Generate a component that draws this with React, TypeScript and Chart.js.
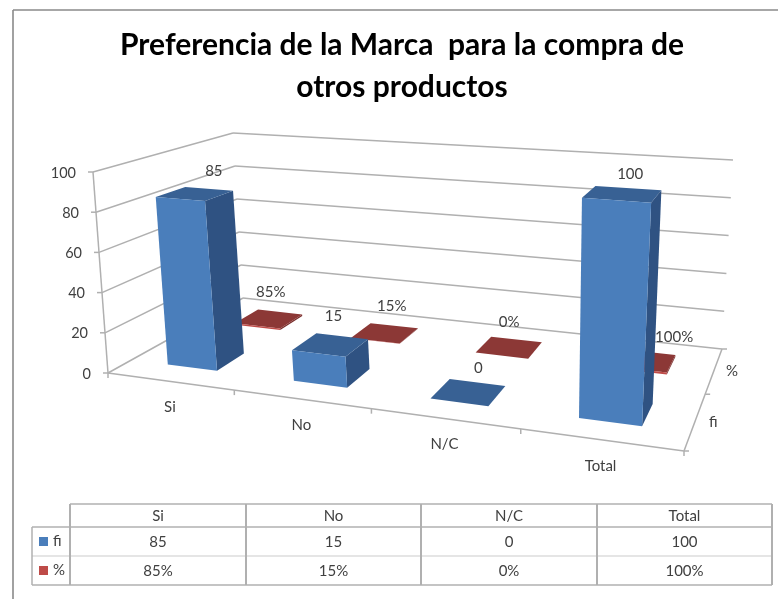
import React, { useEffect, useRef } from "react";
import { Chart, BarController, registerables } from "chart.js";

// Chart values
const categories = ["Si", "No", "N/C", "Total"];
const seriesNames = ["fi", "%"];
const fiValues = [85, 15, 0, 100];
const pctValues = [0.85, 0.15, 0, 1];
const titleLines = ["Preferencia de la Marca  para la compra de", "otros productos"];

const FONT = "Lato, 'Open Sans', sans-serif";
const TEXT = "#404040";
const GRID = "#b0b0b0";

// Corners of the box the bars stand in: floor and ceiling, ordered
// front-left, front-right, back-right, back-left.
const FLOOR = [[108, 373], [684, 451], [722, 349], [243, 298]];
const CEILING = [[93, 172], [699, 217], [733, 160], [233, 133]];

type Pt = number[];

function quadMap(q: Pt[]) {
  const [[x0, y0], [x1, y1], [x2, y2], [x3, y3]] = q;
  const dx1 = x1 - x2, dx2 = x3 - x2, sx = x0 - x1 + x2 - x3;
  const dy1 = y1 - y2, dy2 = y3 - y2, sy = y0 - y1 + y2 - y3;
  const den = dx1 * dy2 - dx2 * dy1;
  const g = (sx * dy2 - dx2 * sy) / den;
  const h = (dx1 * sy - sx * dy1) / den;
  const a = x1 - x0 + g * x1, b = x3 - x0 + h * x3;
  const d = y1 - y0 + g * y1, e = y3 - y0 + h * y3;
  return (u: number, v: number): Pt => {
    const k = g * u + h * v + 1;
    return [(a * u + b * v + x0) / k, (d * u + e * v + y0) / k];
  };
}

const floorAt = quadMap(FLOOR);
const ceilingAt = quadMap(CEILING);

// u: along the categories, w: depth, h: height, each from 0 to 1
function project(u: number, w: number, h: number): Pt {
  const a = floorAt(u, w);
  const b = ceilingAt(u, w);
  return [a[0] + (b[0] - a[0]) * h, a[1] + (b[1] - a[1]) * h];
}

function polygon(ctx: CanvasRenderingContext2D, pts: Pt[], fill: string) {
  ctx.beginPath();
  pts.forEach((p, i) => (i ? ctx.lineTo(p[0], p[1]) : ctx.moveTo(p[0], p[1])));
  ctx.closePath();
  ctx.fillStyle = fill;
  ctx.fill();
}

function segment(ctx: CanvasRenderingContext2D, a: Pt, b: Pt, color = GRID, width = 1.5) {
  ctx.beginPath();
  ctx.moveTo(a[0], a[1]);
  ctx.lineTo(b[0], b[1]);
  ctx.strokeStyle = color;
  ctx.lineWidth = width;
  ctx.stroke();
}

function label(ctx: CanvasRenderingContext2D, text: string, x: number, y: number, align: CanvasTextAlign = "center", size = 15) {
  ctx.font = `${size}px ${FONT}`;
  ctx.fillStyle = TEXT;
  ctx.textAlign = align;
  ctx.textBaseline = "middle";
  ctx.fillText(text, x, y);
}

// Normalised position of a chart pixel within the hidden scales
function norm(chart: any, xPx: number, yPx: number) {
  const { x, y } = chart.scales;
  return { u: (xPx - x.left) / x.width, h: (y.bottom - yPx) / y.height };
}

// Depth range of one series: each series owns a band on the depth scale
function depthBand(chart: any, index: number) {
  const z = chart.scales.z;
  const c = (z.getPixelForValue(index) - z.left) / z.width;
  const half = 0.1;
  return [c - half, c + half];
}

const FACE_COLORS = [
  { front: "#4a7ebb", top: "#386194", side: "#2f5282" },
  { front: "#be4b48", top: "#8c3836", side: "#7a2f2d" },
];

// Bar controller that raises each bar as a box inside the projected space
class Box3DController extends BarController {
  static id = "box3d";
  static defaults = BarController.defaults;
  static overrides = BarController.overrides;

  draw() {
    const chart: any = this.chart;
    const ctx = chart.ctx;
    const colors = FACE_COLORS[this.index];
    const [w0, w1] = depthBand(chart, this.index);
    for (const bar of this._cachedMeta.data as any[]) {
      const { x, y, base, width } = bar.getProps(["x", "y", "base", "width"], true);
      const { u: u0, h: h0 } = norm(chart, x - width / 2, base);
      const { u: u1, h: h1 } = norm(chart, x + width / 2, y);
      const side = [project(u1, w0, h0), project(u1, w1, h0), project(u1, w1, h1), project(u1, w0, h1)];
      const top = [project(u0, w0, h1), project(u1, w0, h1), project(u1, w1, h1), project(u0, w1, h1)];
      const front = [project(u0, w0, h0), project(u1, w0, h0), project(u1, w0, h1), project(u0, w0, h1)];
      polygon(ctx, side, colors.side);
      polygon(ctx, top, colors.top);
      polygon(ctx, front, colors.front);
    }
  }
}

// Walls, gridlines and axis text of the box
const boxFrame = {
  id: "boxFrame",
  beforeDatasetsDraw(chart: any) {
    const ctx = chart.ctx;
    const { x, y, z } = chart.scales;
    for (const tick of y.ticks) {
      const h = (y.bottom - y.getPixelForValue(tick.value)) / y.height;
      const front = project(0, 0, h);
      const backL = project(0, 1, h);
      const backR = project(1, 1, h);
      segment(ctx, [front[0] - 5, front[1]], front);
      segment(ctx, front, backL);
      segment(ctx, backL, backR);
      label(ctx, String(tick.value), front[0] - 17, front[1] + 1, "right", 14.5);
    }
    segment(ctx, project(0, 0, 0), project(0, 0, 1));
    segment(ctx, project(0, 0, 0), project(1, 0, 0));
    segment(ctx, project(1, 0, 0), project(1, 1, 0));

    const catStep = 1 / categories.length;
    for (let i = 0; i <= categories.length; i++) {
      const p = project(i * catStep, 0, 0);
      segment(ctx, p, [p[0], p[1] + 5]);
    }
    categories.forEach((name, i) => {
      const u = (x.getPixelForValue(i) - x.left) / x.width;
      const p = project(u, 0, 0);
      label(ctx, name, p[0], p[1] + 26);
    });
    const depthStep = 1 / seriesNames.length;
    for (let i = 0; i <= seriesNames.length; i++) {
      const p = project(1, i * depthStep, 0);
      segment(ctx, p, [p[0] + 5, p[1]]);
    }
    seriesNames.forEach((name, i) => {
      const w = (z.getPixelForValue(i) - z.left) / z.width;
      const p = project(1, w, 0);
      label(ctx, name, p[0] + 18, p[1] + 1);
    });
  },
};

// Offsets of the value labels from the centre of each bar's top
const labelOffsets = [
  [[19, -23], [3, -29], [10, -24], [8, -20]],
  [[2, -27], [7, -27], [0, -25], [31, -23]],
];

const formatValue = (series: number, value: number) =>
  series === 0 ? String(value) : `${Math.round(value * 100)}%`;

const valueLabels = {
  id: "valueLabels",
  afterDatasetsDraw(chart: any) {
    const ctx = chart.ctx;
    chart.data.datasets.forEach((ds: any, s: number) => {
      const [w0, w1] = depthBand(chart, s);
      chart.getDatasetMeta(s).data.forEach((bar: any, i: number) => {
        const { u, h } = norm(chart, bar.x, bar.y);
        const p = project(u, (w0 + w1) / 2, h);
        const [dx, dy] = labelOffsets[s][i];
        label(ctx, formatValue(s, ds.data[i]), p[0] + dx, p[1] + dy);
      });
    });
  },
};

// Frame lines of the chart and the data table beneath it
const COLUMN_EDGES = [70, 246, 421, 597, 772];
const ROW_EDGES = [504, 527, 556, 585];
const KEY_LEFT = 32;

const dataTable = {
  id: "dataTable",
  afterDraw(chart: any) {
    const ctx = chart.ctx;
    segment(ctx, [13, 10], [13, 599], "#8a8a8a", 1.6);
    segment(ctx, [13, 10], [778, 10], "#8a8a8a", 1.6);

    const [top, head, mid, bottom] = ROW_EDGES;
    const right = COLUMN_EDGES[COLUMN_EDGES.length - 1];
    const line = "#b0b0b0";
    segment(ctx, [COLUMN_EDGES[0], top], [right, top], line, 1.5);
    segment(ctx, [KEY_LEFT, head], [right, head], line, 1.5);
    segment(ctx, [KEY_LEFT, mid], [right, mid], "#cccccc", 1.2);
    segment(ctx, [KEY_LEFT, bottom], [right, bottom], line, 1.5);
    segment(ctx, [KEY_LEFT, head], [KEY_LEFT, bottom], line, 1.5);
    COLUMN_EDGES.forEach((x) => segment(ctx, [x, top], [x, bottom], line, 2));

    const rows = chart.data.datasets.map((ds: any) => ds.data);
    categories.forEach((name, c) => {
      const cx = (COLUMN_EDGES[c] + COLUMN_EDGES[c + 1]) / 2;
      label(ctx, name, cx, (top + head) / 2 + 1);
      rows.forEach((vals: number[], r: number) => {
        label(ctx, formatValue(r, vals[c]), cx, (ROW_EDGES[r + 1] + ROW_EDGES[r + 2]) / 2 + 1);
      });
    });
    seriesNames.forEach((name, r) => {
      const cy = (ROW_EDGES[r + 1] + ROW_EDGES[r + 2]) / 2;
      ctx.fillStyle = FACE_COLORS[r].front;
      ctx.fillRect(39, cy - 4.5, 9, 9);
      label(ctx, name, 53, cy, "left");
    });
  },
};

Chart.register(...registerables, Box3DController);

export default function App() {
  const ref = useRef<HTMLCanvasElement>(null);

  useEffect(() => {
    const chart = new Chart(ref.current!, {
      type: "box3d" as any,
      data: {
        labels: categories,
        datasets: [
          { label: seriesNames[0], data: fiValues, backgroundColor: FACE_COLORS[0].front },
          { label: seriesNames[1], data: pctValues, backgroundColor: FACE_COLORS[1].front },
        ] as any,
      },
      options: {
        animation: false,
        responsive: false,
        layout: { padding: { left: 26 } },
        datasets: { box3d: { grouped: false, barPercentage: 0.4, categoryPercentage: 1, clip: false } } as any,
        plugins: {
          legend: { display: false },
          tooltip: { enabled: false },
          title: {
            display: true,
            text: titleLines,
            color: "#000000",
            font: { family: FONT, size: 30, weight: "bold", lineHeight: 1.4 },
            padding: { top: 24, bottom: 10 },
          },
        },
        scales: {
          x: { type: "category", display: false, offset: true },
          y: { type: "linear", display: false, min: 0, max: 100, ticks: { stepSize: 20 } },
          z: { type: "category", axis: "x", display: false, labels: seriesNames, offset: true },
        },
      } as any,
      plugins: [boxFrame, valueLabels, dataTable],
    });
    return () => chart.destroy();
  }, []);

  return (
    <div style={{ position: "absolute", left: 0, top: 0, width: 778, height: 599, background: "#ffffff", overflow: "hidden" }}>
      <canvas ref={ref} width={778} height={599} style={{ display: "block" }} />
    </div>
  );
}
